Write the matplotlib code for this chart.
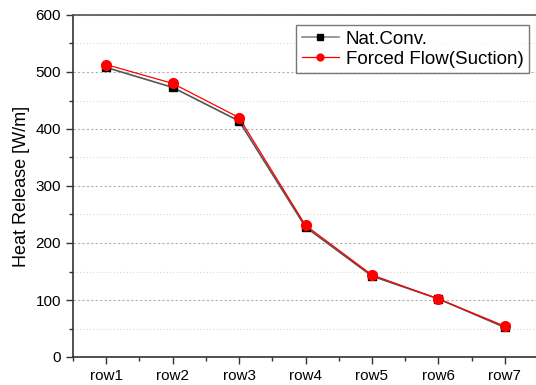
import matplotlib.pyplot as plt
import numpy as np
from matplotlib.ticker import MultipleLocator

rows = ["row1", "row2", "row3", "row4", "row5", "row6", "row7"]
nat_conv = [508, 473, 414, 228, 142, 102, 52]
forced = [513, 480, 420, 231, 144, 102, 54]

plt.rcParams['font.family'] = ['Liberation Sans', 'DejaVu Sans']

fig = plt.figure(figsize=(5.36, 3.85), dpi=100)
ax = fig.add_axes([73 / 536, 1 - 357 / 385, (538 - 73) / 536, (357 - 15) / 385])

x = np.arange(1, len(rows) + 1)
ax.plot(x, nat_conv, color="#555555", lw=1.2, marker="s", ms=6,
        mfc="black", mec="black", label="Nat.Conv.", zorder=3)
ax.plot(x, forced, color="red", lw=0.9, marker="o", ms=7,
        mfc="red", mec="red", label="Forced Flow(Suction)", zorder=4)

ax.set_xlim(0.5, 7.5)
ax.set_ylim(0, 600)
ax.set_xticks(x)
ax.set_xticklabels(rows)
ax.xaxis.set_minor_locator(MultipleLocator(0.5))
ax.yaxis.set_major_locator(MultipleLocator(100))
ax.yaxis.set_minor_locator(MultipleLocator(50))

ax.grid(which="major", axis="y", color="#b0b0b0", ls=(0, (2, 2)), lw=0.8)
ax.grid(which="minor", axis="y", color="#d8d8d8", ls=(0, (1, 2)), lw=0.8)
ax.set_axisbelow(True)

ax.tick_params(which="major", direction="out", length=5, width=1, labelsize=11, color="#333333")
ax.tick_params(which="minor", direction="out", length=3, width=1, color="#333333")
ax.tick_params(axis="x", which="both", top=False)

for s in ax.spines.values():
    s.set_color("#333333")
    s.set_linewidth(1.2)
ax.spines["top"].set_color("#555555")

ax.set_ylabel("Heat Release [W/m]", fontsize=13)

leg = ax.legend(loc="upper right", bbox_to_anchor=((529 - 73) / 465, (357 - 25) / 342),
                fontsize=13.5, frameon=True, fancybox=False, handlelength=2.0,
                markerscale=0.7, borderpad=0.3, labelspacing=0.15,
                handletextpad=0.35, borderaxespad=0)
leg.get_frame().set_edgecolor("#555555")
leg.get_frame().set_linewidth(1.0)
leg.get_lines()[0].set_color("#888888")

fig.savefig("out.png", dpi=100)
